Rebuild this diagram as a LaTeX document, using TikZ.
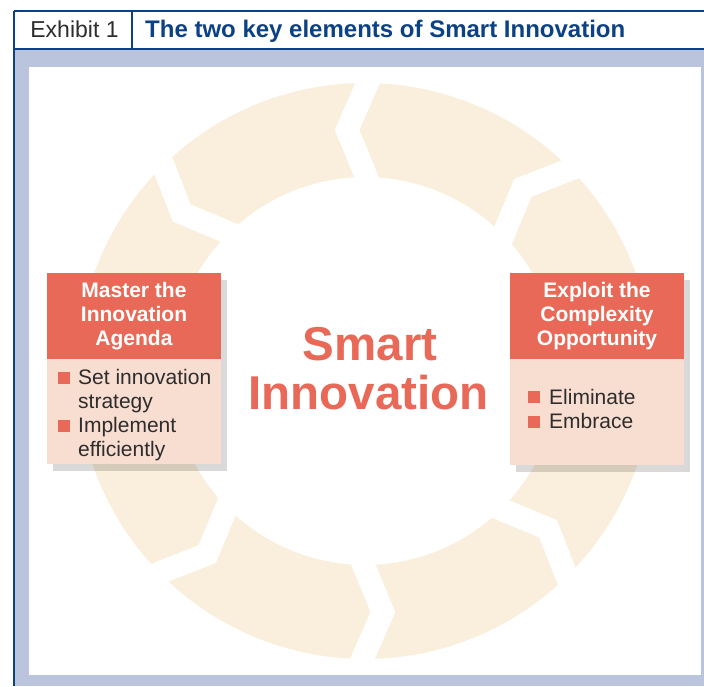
\documentclass[tikz,border=0pt]{standalone}
\usepackage{fontspec}
\setmainfont{Liberation Sans}
\definecolor{band}{RGB}{186,196,221}
\definecolor{dkblue}{RGB}{12,66,132}
\definecolor{ringc}{RGB}{250,239,220}
\definecolor{coral}{RGB}{232,105,88}
\definecolor{pinkbody}{RGB}{248,221,209}
\definecolor{txtgray}{RGB}{45,45,45}
\tikzset{
  seg/.style={fill=ringc, draw=none},
  rule/.style={draw=dkblue, line width=1.4pt},
  hdrbox/.style={fill=coral, minimum width=174pt, minimum height=86pt, inner sep=0pt,
    text=white, align=center, font=\fontsize{21}{24}\selectfont\bfseries},
  bodybox/.style={fill=pinkbody, minimum width=174pt, inner sep=0pt},
  itemtext/.style={text=txtgray, font=\fontsize{21}{24}\selectfont, anchor=base west, inner sep=0pt},
  bullet/.style={fill=coral},
  shadowbox/.style={fill=black, fill opacity=0.15},
  bigtext/.style={text=coral, font=\fontsize{47.5}{50}\selectfont\bfseries, anchor=base, inner sep=0pt},
}
\begin{document}
\begin{tikzpicture}[x=1pt,y=-1pt]
\useasboundingbox (0,0) rectangle (704,686);
\fill[white] (0,0) rectangle (704,686);
% frame
\fill[band] (14,49) rectangle (704,686);
\fill[white] (29,67) rectangle (701,675);
\draw[rule] (14,11) -- (704,11);
\draw[rule] (14,49) -- (704,49);
\draw[rule] (14,11) -- (14,686);
\draw[rule] (132,11) -- (132,49);
\node[anchor=base, inner sep=0pt, text=txtgray, font=\fontsize{23}{26}\selectfont] (exh) at (74.5,37.3) {Exhibit 1};
\node[anchor=base west, inner sep=0pt, text=dkblue, font=\fontsize{24}{27}\selectfont\bfseries] (title) at (145,37.3) {The two key elements of Smart Innovation};
% ring of eight chevron segments
\foreach \k in {0,...,7}{
  \begin{scope}[shift={(365,371)}, rotate=45*\k-0.5, yscale=-1]
    \fill[seg] (3.69:194) -- (241,32.5) -- (2.49:288)
      arc[start angle=2.49, end angle=42.51, radius=288]
      -- (46.78:241.1) -- (41.31:194)
      arc[start angle=41.31, end angle=3.69, radius=194] -- cycle;
  \end{scope}
}
% centre text
\node[bigtext] (smart) at (370,360) {Smart};
\node[bigtext] (innov) at (368.6,409.3) {Innovation};
% shadows
\fill[shadowbox] (53,280) rectangle (227,471);
\fill[shadowbox] (516,280) rectangle (690,472);
% left box
\node[hdrbox] (lhead) at (134,316) {Master the\\Innovation\\Agenda};
\node[bodybox, minimum height=105pt, anchor=north] (lbody) at (lhead.south) {};
% right box
\node[hdrbox] (rhead) at (597,316) {Exploit the\\Complexity\\Opportunity};
\node[bodybox, minimum height=106pt, anchor=north] (rbody) at (rhead.south) {};
% items
\fill[bullet] (58,372) rectangle (70,384);
\node[itemtext] (l1) at (78,384) {Set innovation};
\node[itemtext] (l2) at (78,408) {strategy};
\fill[bullet] (58,420) rectangle (70,432);
\node[itemtext] (l3) at (78,432) {Implement};
\node[itemtext] (l4) at (78,456) {efficiently};
\fill[bullet] (528,391) rectangle (540,403);
\node[itemtext] (r1) at (549,404) {Eliminate};
\fill[bullet] (528,415.5) rectangle (540,427.5);
\node[itemtext] (r2) at (549,428.3) {Embrace};
\end{tikzpicture}
\end{document}
